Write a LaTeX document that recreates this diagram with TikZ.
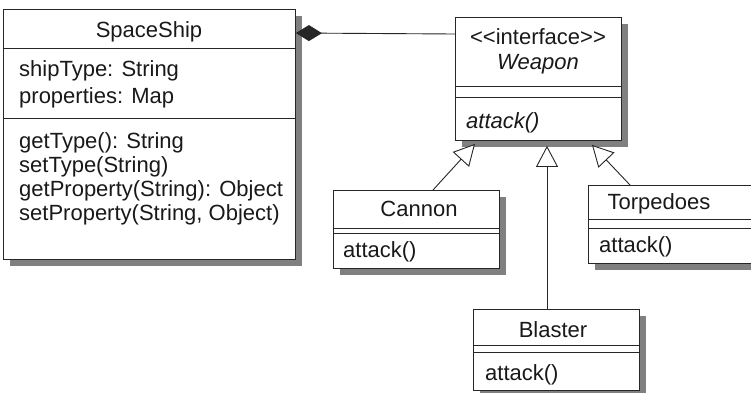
\documentclass[tikz,border=0pt]{standalone}
\usepackage{fontspec}
\setmainfont{Liberation Sans}
\usetikzlibrary{arrows.meta, shadows, calc}

\tikzset{
    umlclass/.style={draw=black!85, line width=0.9pt, fill=white, anchor=north west, inner sep=0pt,
        drop shadow={shadow xshift=7pt, shadow yshift=-7pt, fill=black!50, opacity=1}},
    member/.style={anchor=west, align=left, inner sep=0pt, text=black!90, font=\fontsize{22}{24}\selectfont},
    title/.style={inner sep=0pt, align=center, text=black!90, font=\fontsize{22}{25}\selectfont},
    realize/.style={draw=black!85, line width=0.9pt, -{Triangle[length=21pt, width=22pt, fill=white, line width=0.9pt]}},
    compose/.style={draw=black!85, line width=0.9pt, {Diamond[length=26pt, width=16pt]}-},
}
\newcommand{\sepline}[2]{\draw[black!85, line width=0.9pt] ($(#1.north west)+(0,#2)$) -- ($(#1.north east)+(0,#2)$);}

\begin{document}
\begin{tikzpicture}[x=1pt, y=-1pt]
    \clip (0, 0) rectangle (751, 392);
    \node[umlclass, minimum width=292pt, minimum height=250pt] (ship) at (3, 9) {};
    \sepline{ship}{39}
    \sepline{ship}{109}
    \node[title] (shipname) at (149, 32) {SpaceShip};
    \node[member] (shipattr) at (19, 84) {shipType: String\\[3pt]properties: Map};
    \node[member] (shipops) at (19, 179) {getType(): String\\setType(String)\\getProperty(String): Object\\setProperty(String, Object)};

    \node[umlclass, minimum width=166pt, minimum height=123pt] (weapon) at (455, 17) {};
    \sepline{weapon}{69}
    \sepline{weapon}{80}
    \node[title] (weaponname) at (538, 51) {<\kern0pt<interface>\kern0pt>\\\textit{Weapon}};
    \node[member] (weaponops) at (466, 123) {\textit{attack()}};

    \node[umlclass, minimum width=166pt, minimum height=78pt] (cannon) at (333, 190) {};
    \sepline{cannon}{38}
    \sepline{cannon}{43}
    \node[title] (cannonname) at (419, 209) {Cannon};
    \node[member] (cannonops) at (343, 252) {attack()};

    \node[umlclass, minimum width=175pt, minimum height=78pt] (torpedoes) at (588, 185) {};
    \sepline{torpedoes}{34}
    \sepline{torpedoes}{43}
    \node[title] (torpedoesname) at (659, 204) {Torpedoes};
    \node[member] (torpedoesops) at (599, 247) {attack()};

    \node[umlclass, minimum width=166pt, minimum height=81pt] (blaster) at (473, 309) {};
    \sepline{blaster}{36}
    \sepline{blaster}{43}
    \node[title] (blastername) at (553, 330) {Blaster};
    \node[member] (blasterops) at (485, 375) {attack()};

    \draw[compose] ($(ship.north east)+(0, 24)$) -- ($(weapon.north west)+(0, 17)$);
    \draw[realize] ($(cannon.north west)+(100, 0)$) -- ($(weapon.south west)+(20, 3)$);
    \draw[realize] ($(blaster.north west)+(74, 0)$) -- ($(weapon.south west)+(92, 5)$);
    \draw[realize] ($(torpedoes.north west)+(42, 0)$) -- ($(weapon.south west)+(137, 4)$);
\end{tikzpicture}
\end{document}
